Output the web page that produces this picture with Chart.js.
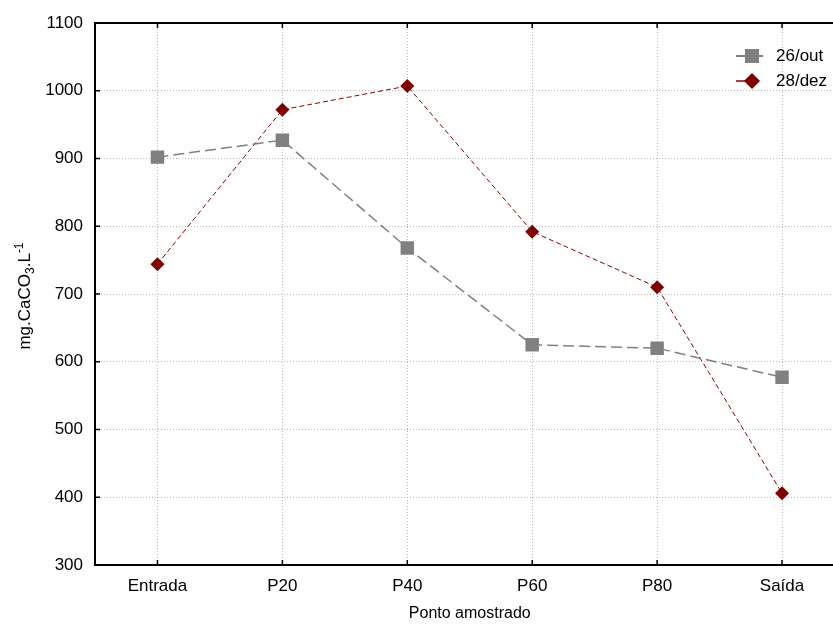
<!DOCTYPE html>
<html>
<head>
<meta charset="utf-8">
<script src="https://cdn.jsdelivr.net/npm/chart.js@4"></script>
<style>
  html, body { margin: 0; padding: 0; background: #fff; overflow: hidden; }
  #wrap { width: 854px; height: 627px; }
</style>
</head>
<body>
<div id="wrap"><canvas id="caChart" width="854" height="627"></canvas></div>
<script>
const pontos = ['Entrada', 'P20', 'P40', 'P60', 'P80', 'Saída'];
const out26 = [902, 927, 768, 625, 620, 577];
const dez28 = [744, 972, 1007, 792, 710, 406];
const yTicks = [300, 400, 500, 600, 700, 800, 900, 1000, 1100];

const FONT = '"Liberation Sans", Arial, sans-serif';

// frame with inward ticks, y title with sub/superscript, legend inside the plot
const framePlugin = {
  id: 'frame',
  afterDraw(chart) {
    const { ctx, chartArea: a, scales } = chart;
    ctx.save();
    ctx.strokeStyle = '#000';
    ctx.lineWidth = 2;
    ctx.strokeRect(a.left, a.top, a.right - a.left, a.bottom - a.top);
    ctx.lineWidth = 1.5;
    ctx.beginPath();
    pontos.forEach((p, i) => {
      const x = scales.x.getPixelForValue(i);
      ctx.moveTo(x, a.bottom); ctx.lineTo(x, a.bottom - 5);
      ctx.moveTo(x, a.top); ctx.lineTo(x, a.top + 5);
    });
    yTicks.forEach(v => {
      const y = scales.y.getPixelForValue(v);
      ctx.moveTo(a.left, y); ctx.lineTo(a.left + 5, y);
    });
    ctx.stroke();

    // y axis title: mg.CaCO3.L-1
    ctx.save();
    ctx.translate(30, 296);
    ctx.rotate(-Math.PI / 2);
    ctx.fillStyle = '#000';
    ctx.textBaseline = 'alphabetic';
    ctx.textAlign = 'left';
    const parts = [
      { t: 'mg.CaCO', s: 17, dy: 0 },
      { t: '3', s: 12, dy: 4 },
      { t: '.L', s: 17, dy: 0 },
      { t: '-1', s: 12, dy: -7 },
    ];
    let total = 0;
    parts.forEach(p => { ctx.font = p.s + 'px ' + FONT; total += ctx.measureText(p.t).width; });
    let px = -total / 2;
    parts.forEach(p => {
      ctx.font = p.s + 'px ' + FONT;
      ctx.fillText(p.t, px, p.dy);
      px += ctx.measureText(p.t).width;
    });
    ctx.restore();

    // legend
    const items = chart.data.datasets;
    ctx.font = '17px ' + FONT;
    ctx.textBaseline = 'middle';
    items.forEach((ds, i) => {
      const y = 56 + i * 25;
      const x0 = 736, xm = 752;
      const x1 = ds.pointStyle === 'rect' ? 768 : 752;
      ctx.strokeStyle = ds.borderColor;
      ctx.lineWidth = ds.borderWidth + 0.5;
      ctx.setLineDash(ds.pointStyle === 'rect' ? ds.borderDash : []);
      ctx.beginPath(); ctx.moveTo(x0, y); ctx.lineTo(x1, y); ctx.stroke();
      ctx.setLineDash([]);
      ctx.fillStyle = ds.pointBackgroundColor;
      ctx.beginPath();
      if (ds.pointStyle === 'rect') {
        ctx.rect(xm - 7, y - 7, 14, 14);
      } else {
        ctx.moveTo(xm, y - 8); ctx.lineTo(xm + 8, y); ctx.lineTo(xm, y + 8); ctx.lineTo(xm - 8, y);
        ctx.closePath();
      }
      ctx.fill();
      ctx.fillStyle = '#000';
      ctx.textAlign = 'left';
      ctx.fillText(ds.label, 776, y);
    });
    ctx.restore();
  }
};

const ctx = document.getElementById('caChart').getContext('2d');
new Chart(ctx, {
  type: 'line',
  data: {
    labels: pontos,
    datasets: [
      {
        label: '26/out',
        data: out26,
        borderColor: '#808080',
        borderWidth: 1.5,
        borderDash: [11, 5],
        pointStyle: 'rect',
        pointRadius: 9.5,
        pointBackgroundColor: '#808080',
        pointBorderColor: '#808080',
        pointBorderWidth: 0,
        tension: 0,
      },
      {
        label: '28/dez',
        data: dez28,
        borderColor: '#8b0000',
        borderWidth: 1,
        borderDash: [5, 3],
        pointStyle: 'rectRot',
        pointRadius: 7,
        pointBackgroundColor: '#800000',
        pointBorderColor: '#800000',
        pointBorderWidth: 0,
        tension: 0,
      },
    ],
  },
  options: {
    responsive: false,
    animation: false,
    events: [],
    layout: { padding: { top: 23, left: 0, right: 0.5, bottom: 0 } },
    plugins: {
      legend: { display: false },
      title: { display: false },
      tooltip: { enabled: false },
    },
    scales: {
      x: {
        offset: true,
        grid: {
          color: '#b8b8b8',
          lineWidth: 1,
          tickLength: 0,
          drawTicks: false,
          offset: false,
        },
        border: { display: false, dash: [1, 2] },
        ticks: { color: '#000', font: { family: FONT, size: 17 }, padding: 11, maxRotation: 0 },
        title: {
          display: true,
          text: 'Ponto amostrado',
          color: '#000',
          font: { family: FONT, size: 16 },
          padding: { top: 20 },
        },
        afterFit(scale) {
          scale.height = 62;
          scale.paddingLeft = 0;
          scale.paddingRight = 0;
        },
      },
      y: {
        min: 300,
        max: 1100,
        afterBuildTicks(scale) { scale.ticks = yTicks.map(v => ({ value: v })); },
        grid: { color: '#b8b8b8', lineWidth: 1, drawTicks: false, tickLength: 0 },
        border: { display: false, dash: [1, 2] },
        ticks: {
          color: '#000',
          font: { family: FONT, size: 17 },
          padding: 12,
          callback: v => String(v),
        },
        title: { display: false },
        afterFit(scale) {
          scale.width = 95;
          scale.paddingTop = 0;
          scale.paddingBottom = 0;
        },
      },
    },
  },
  plugins: [framePlugin],
});
</script>
</body>
</html>
